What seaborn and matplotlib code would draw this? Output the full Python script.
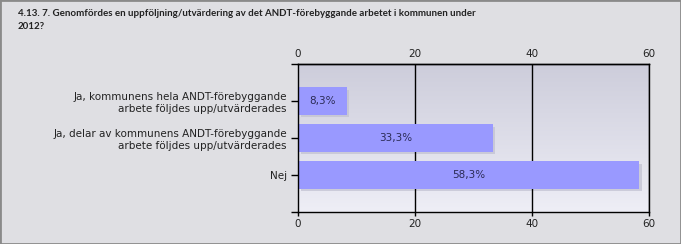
import numpy as np
import pandas as pd
import seaborn as sns
import matplotlib
matplotlib.use("Agg")
import matplotlib.pyplot as plt
import matplotlib.transforms as mtransforms
from matplotlib.patches import Rectangle
from matplotlib.colors import LinearSegmentedColormap

title = "4.13. 7. Genomfördes en uppföljning/utvärdering av det ANDT-förebyggande arbetet i kommunen under\n2012?"
categories = ["Ja, kommunens hela ANDT-förebyggande\narbete följdes upp/utvärderades",
              "Ja, delar av kommunens ANDT-förebyggande\narbete följdes upp/utvärderades",
              "Nej"]
values = [8.3, 33.3, 58.3]
value_labels = ["8,3%", "33,3%", "58,3%"]
xticks = [0, 20, 40, 60]

sns.set_theme(style="white")
plt.rcParams['font.family'] = ['DejaVu Sans']

df = pd.DataFrame({"cat": categories, "val": values})

fig = plt.figure(figsize=(6.81, 2.44), dpi=100, facecolor="#dfdfe3")
ax = fig.add_axes([298/681, 1-212/244, (649-298)/681, (212-64)/244])

# gradient background
grad = np.linspace(0, 1, 256).reshape(-1, 1)
cmap = LinearSegmentedColormap.from_list("bg", ["#cdcddb", "#eeeef6"])
ax.imshow(grad, aspect="auto", cmap=cmap, extent=[0, 1, 0, 1], transform=ax.transAxes, zorder=0, origin="upper")

# shadows
shadow_tr = mtransforms.offset_copy(ax.transData, fig=fig, x=2.5, y=-2.5, units="dots")
for i, v in enumerate(values):
    ax.add_patch(Rectangle((0, i - 0.365), v, 0.73, transform=shadow_tr,
                           facecolor="#c0c0d0", edgecolor="none", alpha=0.7, zorder=1))

sns.barplot(data=df, x="val", y="cat", orient="h", color="#9999ff", saturation=1,
            width=0.73, ax=ax, zorder=2, edgecolor="none")

for i, (v, lab) in enumerate(zip(values, value_labels)):
    ax.text(v / 2, i, lab, ha="center", va="center", fontsize=7.5, color="#2b2b55", zorder=3)

ax.set_xlim(0, 60)
ax.set_ylim(3, -1)
ax.set_xticks(xticks)
ax.set_xticklabels([str(t) for t in xticks])
ax.set_yticks([-1, 0, 1, 2, 3])
ax.set_yticklabels(["", categories[0], categories[1], categories[2], ""], fontsize=7.5, ha="right",
                   multialignment="right")
ax.set_xlabel("")
ax.set_ylabel("")
for t in xticks[1:]:
    ax.axvline(t, color="black", lw=1, zorder=1.5)
ax.tick_params(axis="x", which="both", bottom=True, top=False, labelbottom=True, labeltop=False,
               length=3, width=1, color="black", labelsize=7.5, pad=2, labelcolor="#222222")
ax.tick_params(axis="y", left=True, length=5, width=1, color="black", labelsize=7.5, pad=3,
               labelcolor="#222222")
for s in ax.spines.values():
    s.set_visible(True)
    s.set_color("black")
    s.set_linewidth(1)

sec = ax.secondary_xaxis("top")
sec.set_xticks(xticks)
sec.set_xticklabels([str(t) for t in xticks])
sec.tick_params(length=0, labelsize=7.5, pad=3.5, labelcolor="#222222")
sec.spines["top"].set_color("black")
sec.spines["top"].set_linewidth(1)

fig.text(18/681, 1-9/244, title, ha="left", va="top", fontsize=7.0, fontweight="bold",
         family=["Lato", "DejaVu Sans"], color="#222222", linespacing=1.55)

# frame border
fig.patches.append(Rectangle((0, 0), 1, 1, transform=fig.transFigure, fill=False,
                             edgecolor="#8a8a8a", lw=2))

fig.savefig("out.png", dpi=100, facecolor=fig.get_facecolor())
